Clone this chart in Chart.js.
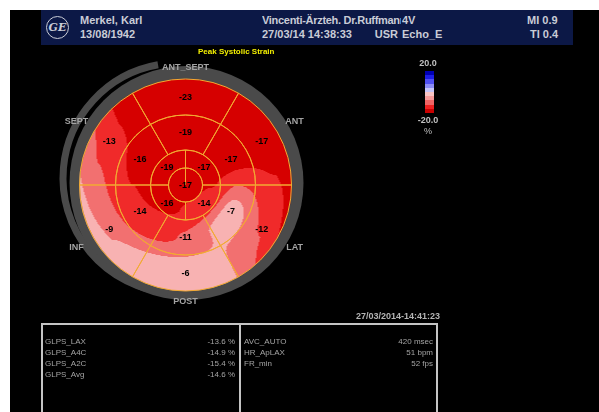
<!DOCTYPE html>
<html>
<head>
<meta charset="utf-8">
<script src="https://cdn.jsdelivr.net/npm/chart.js@4.4.1/dist/chart.umd.min.js"></script>
<style>
  body { margin:0; width:599px; height:412px; overflow:hidden; position:relative; background:#fff; font-family: Arial, "Liberation Sans", sans-serif; }
  .abs { position:absolute; white-space:nowrap; }
  #pantalla { left:10px; top:10px; width:589px; height:402px; background:#000; }
  #cabecera { left:41px; top:10px; width:532px; height:35px; background:#0c1846; }
  .cab { font-size:11px; font-weight:bold; color:#c9ccd6; line-height:12px; }
  #logo { left:46px; top:16px; width:21px; height:21px; border:1.5px solid #c9ccd6; border-radius:50%;
          color:#c9ccd6; font:italic bold 11px "DejaVu Serif", serif; text-align:center; line-height:21px; }
  #grafico { left:0; top:0; width:599px; height:412px; }
  #titulo { left:198px; top:47px; font-size:8px; font-weight:bold; color:#f4f000; }
  .escala { font-size:9px; font-weight:bold; color:#c0c0c0; width:30px; text-align:center; }
  #barra { left:425px; top:71px; width:9px; height:42px; display:flex; flex-direction:column; }
  #barra div { flex:1; }
  #fecha { left:300px; top:311px; width:140px; text-align:right; font-size:9px; font-weight:bold; color:#b4b4b4; }
  .caja { top:323px; height:100px; border:2px solid #c4c4c4; box-sizing:border-box; }
  .fila { font-size:8px; color:#a4a4a4; line-height:10px; }
</style>
</head>
<body>
<div id="pantalla" class="abs"></div>
<div id="cabecera" class="abs"></div>
<div id="logo" class="abs">GE</div>
<div class="abs cab" style="left:80px; top:14px;">Merkel, Karl</div>
<div class="abs cab" style="left:80px; top:28px;">13/08/1942</div>
<div class="abs cab" style="left:262px; top:14px; width:139px; overflow:hidden; letter-spacing:-0.3px;">Vincenti-Ärzteh. Dr.Ruffmann</div>
<div class="abs cab" style="left:262px; top:28px;">27/03/14 14:38:33</div>
<div class="abs cab" style="left:340px; top:28px; width:58px; text-align:right;">USR</div>
<div class="abs cab" style="left:402px; top:14px;">4V</div>
<div class="abs cab" style="left:402px; top:28px;">Echo_E</div>
<div class="abs cab" style="left:527px; top:14px;">MI 0.9</div>
<div class="abs cab" style="left:530px; top:28px;">TI 0.4</div>

<div id="grafico" class="abs"><canvas id="ojo"></canvas></div>
<div id="titulo" class="abs">Peak Systolic Strain</div>

<div id="escalaMax" class="abs escala" style="left:413px; top:58px;"></div>
<div id="barra" class="abs"></div>
<div id="escalaMin" class="abs escala" style="left:413px; top:115px;"></div>
<div class="abs escala" style="left:413px; top:126px; font-weight:normal;">%</div>

<div id="fecha" class="abs">27/03/2014-14:41:23</div>
<div class="abs caja" style="left:41px; width:200px;"></div>
<div class="abs caja" style="left:239px; width:199px;"></div>
<div id="tablaIzq"></div>
<div id="tablaDer"></div>

<script>
// strain pico sistólico por segmento (%)
const segmentos = ['ANT_SEPT', 'ANT', 'LAT', 'POST', 'INF', 'SEPT'];
const basal = [-23, -17, -12, -6, -9, -13];
const medio = [-19, -17, -7, -11, -14, -16];
const apical = [-17, -14, -16, -19]; // sup-der, inf-der, inf-izq, sup-izq
const apex = [-17];

// escala de color
const escalaTicks = ['20.0', '-20.0'];
const coloresBarra = ['#0000b4', '#1e1ee6', '#5050f0', '#8c8cf5', '#c4c4f8',
                      '#f8c4c4', '#f59a9a', '#f06464', '#ee2020', '#c80000'];
const cortes = [-15, -11.5, -8.5];
const coloresCampo = [[214, 0, 0], [240, 42, 42], [242, 112, 112], [248, 178, 178]];

// tablas inferiores
const glpsNombres = ['GLPS_LAX', 'GLPS_A4C', 'GLPS_A2C', 'GLPS_Avg'];
const glpsValores = ['-13.6 %', '-14.9 %', '-15.4 %', '-14.6 %'];
const otrosNombres = ['AVC_AUTO', 'HR_ApLAX', 'FR_min'];
const otrosValores = ['420 msec', '51 bpm', '52 fps'];

document.getElementById('escalaMax').textContent = escalaTicks[0];
document.getElementById('escalaMin').textContent = escalaTicks[1];
const barra = document.getElementById('barra');
coloresBarra.forEach(c => {
  const d = document.createElement('div');
  d.style.background = c;
  barra.appendChild(d);
});

function llenarTabla(id, nombres, valores, x, xFin) {
  const cont = document.getElementById(id);
  nombres.forEach((n, i) => {
    const top = 337 + i * 11;
    const a = document.createElement('div');
    a.className = 'abs fila';
    a.style.left = x + 'px'; a.style.top = top + 'px';
    a.textContent = n;
    const b = document.createElement('div');
    b.className = 'abs fila';
    b.style.left = (xFin - 80) + 'px'; b.style.width = '80px'; b.style.textAlign = 'right';
    b.style.top = top + 'px';
    b.textContent = valores[i];
    cont.appendChild(a); cont.appendChild(b);
  });
}
llenarTabla('tablaIzq', glpsNombres, glpsValores, 45, 235);
llenarTabla('tablaDer', otrosNombres, otrosValores, 244, 433);

// interpolación periódica (Catmull-Rom) a lo largo de un anillo
function catmull(vals, paso, inicio, th) {
  const n = vals.length;
  const t = ((((th - inicio) % 360) + 360) % 360) / paso;
  const i = Math.floor(t), f = t - i;
  const p0 = vals[(i - 1 + n) % n], p1 = vals[i % n], p2 = vals[(i + 1) % n], p3 = vals[(i + 2) % n];
  return 0.5 * (2 * p1 + (-p0 + p2) * f + (2 * p0 - 5 * p1 + 4 * p2 - p3) * f * f +
                (-p0 + 3 * p1 - 3 * p2 + p3) * f * f * f);
}

const suave = f => f * f * (3 - 2 * f);

// valor del campo en radio normalizado rn y ángulo th (grados, horario desde arriba)
function campo(rn, th) {
  const vA = catmull(apical, 90, 45, th);
  const vM = catmull(medio, 60, 0, th);
  const vB = catmull(basal, 60, 0, th);
  const r1 = 0.245, r2 = 0.495, r3 = 0.86;
  if (rn < r1) return apex[0] + (vA - apex[0]) * suave(rn / r1);
  if (rn < r2) return vA + (vM - vA) * suave((rn - r1) / (r2 - r1));
  if (rn < r3) return vM + (vB - vM) * suave((rn - r2) / (r3 - r2));
  return vB + (vB - vM) * 1.5 * (rn - r3) / (r3 - r2);
}

function colorDe(v) {
  for (let k = 0; k < cortes.length; k++) {
    if (v <= cortes[k]) return coloresCampo[k];
  }
  return coloresCampo[coloresCampo.length - 1];
}

const pluginOjo = {
  id: 'ojoDeBuey',
  beforeDatasetsDraw(chart) {
    const arco = chart.getDatasetMeta(0).data[0];
    const {x, y, outerRadius: R} = arco.getProps(['x', 'y', 'outerRadius'], true);
    const ctx = chart.ctx;
    ctx.save();
    // anillo gris alrededor
    ctx.fillStyle = '#4a4a4a';
    ctx.beginPath();
    ctx.arc(x + 1, y - 2, R + 11, 0, 2 * Math.PI);
    ctx.fill();
    ctx.strokeStyle = '#4a4a4a';
    ctx.lineWidth = 7;
    ctx.beginPath();
    ctx.arc(x - 7.5, y - 7, R + 9, 95 * Math.PI / 180, 260 * Math.PI / 180);
    ctx.stroke();

    // mapa de colores interpolado
    const S = Math.ceil(R) * 2 + 2;
    const off = document.createElement('canvas');
    off.width = S; off.height = S;
    const octx = off.getContext('2d');
    const img = octx.createImageData(S, S);
    for (let j = 0; j < S; j++) {
      for (let i = 0; i < S; i++) {
        const dx = i + 0.5 - S / 2, dy = j + 0.5 - S / 2;
        const r = Math.hypot(dx, dy);
        if (r > R + 0.5) continue;
        let th = Math.atan2(dx, -dy) * 180 / Math.PI;
        if (th < 0) th += 360;
        const c = colorDe(campo(r / R, th));
        const k = (j * S + i) * 4;
        img.data[k] = c[0]; img.data[k + 1] = c[1]; img.data[k + 2] = c[2];
        img.data[k + 3] = Math.round(Math.min(1, R + 0.5 - r) * 255);
      }
    }
    octx.putImageData(img, 0, 0);
    ctx.drawImage(off, x - S / 2, y - S / 2);
    ctx.restore();
  },
  afterDatasetsDraw(chart) {
    const ctx = chart.ctx;
    ctx.save();
    ctx.textAlign = 'center';
    ctx.textBaseline = 'middle';
    ctx.font = 'bold 9px Arial, "Liberation Sans", sans-serif';
    ctx.fillStyle = '#000';
    [basal, medio, apical, apex].forEach((vals, d) => {
      chart.getDatasetMeta(d).data.forEach((a, i) => {
        const p = a.getProps(['x', 'y', 'startAngle', 'endAngle', 'innerRadius', 'outerRadius'], true);
        let lx = p.x, ly = p.y;
        if (p.innerRadius > 0) {
          const ang = (p.startAngle + p.endAngle) / 2;
          const rr = (p.innerRadius + p.outerRadius) / 2;
          lx += Math.cos(ang) * rr;
          ly += Math.sin(ang) * rr;
        }
        ctx.fillText(String(vals[i]), lx, ly + 0.5);
      });
    });

    // nombres de los segmentos
    const arco = chart.getDatasetMeta(0).data[0];
    const {x, y, outerRadius: R} = arco.getProps(['x', 'y', 'outerRadius'], true);
    ctx.fillStyle = '#a4a4a4';
    segmentos.forEach((s, i) => {
      const ang = (i * 60 - 90) * Math.PI / 180;
      const rr = i % 3 === 0 ? R + 11 : R + 20;
      ctx.fillText(s, x + Math.cos(ang) * rr, y + Math.sin(ang) * rr);
    });
    ctx.restore();
  }
};

const comun = { backgroundColor: 'rgba(0,0,0,0)', borderColor: '#f2aa32', borderWidth: 1, hoverOffset: 0 };

new Chart(document.getElementById('ojo'), {
  type: 'doughnut',
  data: {
    labels: segmentos,
    datasets: [
      { ...comun, data: basal.map(() => 1), weight: 36, rotation: -30 },
      { ...comun, data: medio.map(() => 1), weight: 35, rotation: -30 },
      { ...comun, data: apical.map(() => 1), weight: 18, rotation: 0 },
      { ...comun, data: apex.map(() => 1), weight: 17, rotation: 0 }
    ]
  },
  options: {
    responsive: true,
    maintainAspectRatio: false,
    animation: false,
    events: [],
    cutout: 0,
    radius: 106,
    layout: { padding: { left: 40, right: 268, top: 40, bottom: 82 } },
    plugins: { legend: { display: false }, tooltip: { enabled: false } }
  },
  plugins: [pluginOjo]
});
</script>
</body>
</html>
